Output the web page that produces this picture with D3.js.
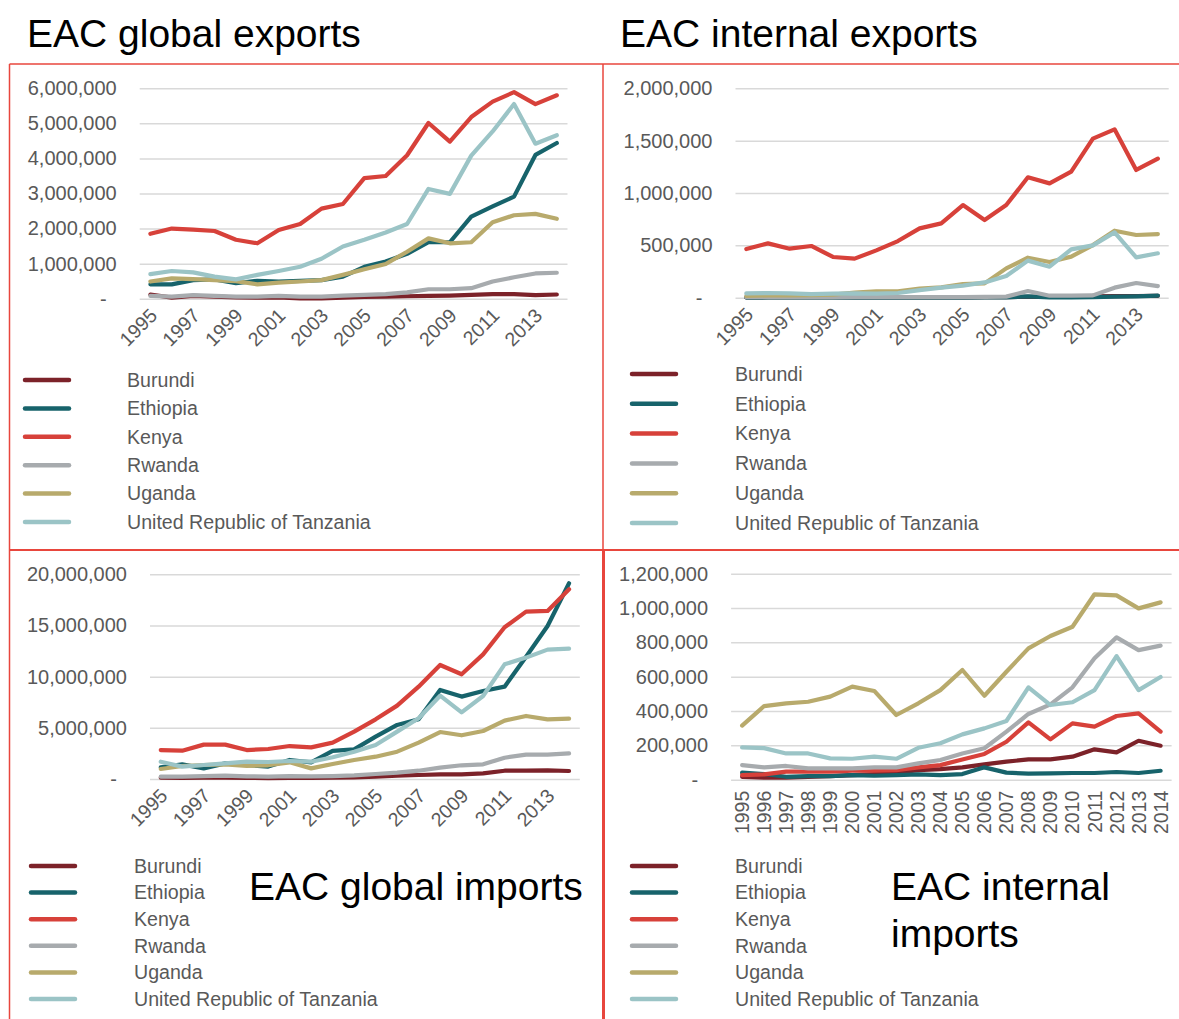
<!DOCTYPE html>
<html>
<head>
<meta charset="utf-8">
<script src="https://cdn.jsdelivr.net/npm/d3@7"></script>
<style>
  html, body { margin: 0; padding: 0; background: #fff; }
  svg { display: block; }
  text { font-family: "Liberation Sans", Arial, sans-serif; }
</style>
</head>
<body>
<svg id="chart" width="1179" height="1019"></svg>
<script>
// ---------------- DATA ----------------
const years = ["1995","1996","1997","1998","1999","2000","2001","2002","2003","2004",
               "2005","2006","2007","2008","2009","2010","2011","2012","2013","2014"];
const countries = ["Burundi","Ethiopia","Kenya","Rwanda","Uganda","United Republic of Tanzania"];
const colors = ["#7c2229","#17636b","#d7413a","#a7abae","#b8aa6c","#9bc4c6"];

// EAC global exports (order: countries)
const globalExportsBurundi  = [120000,30000,80000,60000,40000,30000,40000,10000,10000,30000,50000,60000,70000,80000,90000,110000,130000,130000,100000,120000];
const globalExportsEthiopia = [410000,410000,530000,550000,440000,510000,490000,510000,530000,630000,910000,1060000,1280000,1610000,1610000,2340000,2630000,2910000,4100000,4440000];
const globalExportsKenya    = [1850000,2000000,1970000,1930000,1680000,1580000,1960000,2130000,2570000,2700000,3440000,3500000,4090000,5010000,4480000,5180000,5620000,5890000,5550000,5800000];
const globalExportsRwanda   = [80000,60000,100000,80000,60000,60000,80000,60000,60000,90000,110000,130000,180000,270000,270000,300000,490000,610000,720000,740000];
const globalExportsUganda   = [490000,580000,560000,530000,500000,410000,460000,490000,530000,680000,840000,990000,1340000,1720000,1580000,1610000,2180000,2380000,2420000,2280000];
const globalExportsTanzania = [700000,790000,750000,630000,550000,680000,790000,910000,1140000,1490000,1680000,1890000,2130000,3130000,2990000,4080000,4770000,5550000,4420000,4660000];

// EAC internal exports
const internalExportsBurundi  = [2000,2000,3000,3000,2000,2000,3000,3000,3000,4000,4000,5000,6000,8000,8000,9000,12000,15000,16000,18000];
const internalExportsEthiopia = [1000,1000,1000,1000,1000,1000,1000,1000,1000,1000,1000,2000,3000,12000,3000,4000,5000,10000,13000,20000];
const internalExportsKenya    = [465000,519000,468000,494000,389000,373000,452000,541000,662000,710000,885000,742000,885000,1150000,1092000,1204000,1519000,1608000,1220000,1328000];
const internalExportsRwanda   = [5000,4000,4000,4000,4000,5000,6000,6000,6000,6000,6000,8000,10000,64000,19000,19000,22000,96000,140000,111000];
const internalExportsUganda   = [16000,22000,22000,25000,29000,48000,60000,60000,86000,99000,131000,137000,280000,382000,341000,392000,503000,640000,599000,608000];
const internalExportsTanzania = [41000,45000,41000,35000,38000,41000,38000,45000,73000,96000,115000,146000,207000,354000,296000,462000,500000,624000,385000,424000];

// EAC global imports
const globalImportsBurundi  = [130000,100000,120000,130000,100000,90000,110000,100000,120000,150000,230000,330000,390000,460000,460000,550000,810000,810000,850000,780000];
const globalImportsEthiopia = [1140000,1430000,1040000,1530000,1370000,1210000,1860000,1630000,2740000,2900000,4140000,5280000,5830000,8700000,8050000,8600000,9020000,11950000,14950000,19120000];
const globalImportsKenya    = [2830000,2770000,3360000,3360000,2830000,2930000,3220000,3090000,3550000,4630000,5830000,7170000,9020000,11140000,10230000,12180000,14820000,16350000,16420000,18530000];
const globalImportsRwanda   = [230000,230000,290000,330000,260000,230000,290000,260000,290000,360000,490000,620000,810000,1110000,1340000,1430000,2080000,2380000,2380000,2510000];
const globalImportsUganda   = [980000,1270000,1370000,1430000,1270000,1340000,1630000,1040000,1470000,1860000,2180000,2670000,3550000,4590000,4270000,4690000,5700000,6160000,5830000,5900000];
const globalImportsTanzania = [1690000,1210000,1370000,1530000,1690000,1660000,1760000,1690000,2120000,2670000,3320000,4630000,5930000,8140000,6510000,8110000,11200000,11860000,12640000,12740000];

// EAC internal imports
const internalImportsBurundi  = [17000,12000,12000,17000,21000,27000,33000,41000,56000,62000,72000,89000,105000,118000,118000,134000,177000,159000,227000,198000];
const internalImportsEthiopia = [41000,33000,17000,21000,21000,27000,23000,27000,31000,27000,33000,72000,41000,35000,37000,39000,39000,45000,39000,52000];
const internalImportsKenya    = [27000,31000,47000,47000,47000,52000,52000,56000,72000,85000,118000,150000,221000,334000,235000,328000,309000,371000,386000,280000];
const internalImportsRwanda   = [85000,72000,80000,66000,66000,66000,72000,72000,95000,115000,153000,183000,280000,383000,439000,538000,707000,829000,755000,781000];
const internalImportsUganda   = [315000,429000,445000,454000,484000,542000,517000,377000,445000,522000,639000,489000,629000,765000,837000,891000,1080000,1074000,998000,1033000];
const internalImportsTanzania = [188000,184000,153000,153000,124000,122000,134000,122000,186000,212000,264000,299000,342000,538000,435000,451000,522000,720000,522000,598000];

// tick values
const ticksGlobalExports   = [0,1000000,2000000,3000000,4000000,5000000,6000000];
const ticksInternalExports = [0,500000,1000000,1500000,2000000];
const ticksGlobalImports   = [0,5000000,10000000,15000000,20000000];
const ticksInternalImports = [0,200000,400000,600000,800000,1000000,1200000];
const oddYears = ["1995","1997","1999","2001","2003","2005","2007","2009","2011","2013"];

// ---------------- LAYOUT ----------------
const svg = d3.select("#chart");
const frameColor = "#e8463d";
const textGray = "#595959";
const fmt = d3.format(",");

const panels = [
  { series: [globalExportsBurundi, globalExportsEthiopia, globalExportsKenya, globalExportsRwanda, globalExportsUganda, globalExportsTanzania],
    ticks: ticksGlobalExports, xTicks: oddYears, rot: -45,
    gx0: 139.7, gx1: 567.5, yBottom: 298.7, yTop: 88.3,
    legX: 25, legTextX: 127, legY0: 380, legDy: 28.4 },
  { series: [internalExportsBurundi, internalExportsEthiopia, internalExportsKenya, internalExportsRwanda, internalExportsUganda, internalExportsTanzania],
    ticks: ticksInternalExports, xTicks: oddYears, rot: -45,
    gx0: 735.5, gx1: 1168.7, yBottom: 297.7, yTop: 88.3,
    legX: 632, legTextX: 735, legY0: 374, legDy: 29.8 },
  { series: [globalImportsBurundi, globalImportsEthiopia, globalImportsKenya, globalImportsRwanda, globalImportsUganda, globalImportsTanzania],
    ticks: ticksGlobalImports, xTicks: oddYears, rot: -45,
    gx0: 150, gx1: 579.8, yBottom: 779, yTop: 574.3,
    legX: 31, legTextX: 134, legY0: 866, legDy: 26.6 },
  { series: [internalImportsBurundi, internalImportsEthiopia, internalImportsKenya, internalImportsRwanda, internalImportsUganda, internalImportsTanzania],
    ticks: ticksInternalImports, xTicks: years, rot: -90,
    gx0: 731.1, gx1: 1171.6, yBottom: 779.7, yTop: 573.7,
    legX: 632, legTextX: 735, legY0: 866, legDy: 26.6 }
];

panels.forEach(p => {
  const g = svg.append("g");
  const x = d3.scaleBand().domain(years).range([p.gx0, p.gx1]).padding(0);
  const y = d3.scaleLinear().domain([0, d3.max(p.ticks)]).range([p.yBottom, p.yTop]);
  const cx = d => x(d) + x.bandwidth() / 2;

  // y axis with gridlines
  const yAxis = d3.axisLeft(y).tickValues(p.ticks).tickSize(-(p.gx1 - p.gx0)).tickPadding(23)
    .tickFormat(v => v === 0 ? "-" : fmt(v));
  const ya = g.append("g").attr("transform", `translate(${p.gx0},0)`).call(yAxis);
  ya.select(".domain").remove();
  ya.selectAll(".tick line").attr("stroke", "#d9d9d9").attr("stroke-width", 1.5);
  ya.selectAll(".tick text").attr("fill", textGray).style("font-size", "20px")
    .attr("dx", v => v === 0 ? -10 : 0);

  // x axis
  const xAxis = d3.axisBottom(x).tickValues(p.xTicks).tickSize(0).tickPadding(0);
  const xa = g.append("g").attr("transform", `translate(0,${p.yBottom})`).call(xAxis);
  xa.select(".domain").remove();
  xa.selectAll(".tick line").remove();
  if (p.rot === -45) {
    xa.selectAll(".tick text").attr("fill", textGray).style("font-size", "19.5px")
      .attr("text-anchor", "end").attr("dy", null).attr("y", 0)
      .attr("transform", "translate(8,18) rotate(-45)");
  } else {
    xa.selectAll(".tick text").attr("fill", textGray).style("font-size", "19.5px")
      .attr("text-anchor", "end").attr("dy", null).attr("y", 0)
      .attr("transform", "translate(7,11) rotate(-90)");
  }

  // lines
  const line = d3.line().x((d, i) => cx(years[i])).y(d => y(d));
  p.series.forEach((s, i) => {
    g.append("path").datum(s).attr("d", line).attr("fill", "none")
      .attr("stroke", colors[i]).attr("stroke-width", 4.2)
      .attr("stroke-linejoin", "round").attr("stroke-linecap", "round");
  });

  // legend
  countries.forEach((c, i) => {
    const ly = p.legY0 + i * p.legDy;
    g.append("line").attr("x1", p.legX).attr("x2", p.legX + 44).attr("y1", ly).attr("y2", ly)
      .attr("stroke", colors[i]).attr("stroke-width", 4.5).attr("stroke-linecap", "round");
    g.append("text").attr("x", p.legTextX).attr("y", ly).attr("dy", "0.35em")
      .attr("fill", textGray).style("font-size", "19.6px").text(c);
  });
});

// frames
const frames = [
  [9.5, 64, 1179, 64, 1.5],
  [9.5, 64, 9.5, 1019, 1.5],
  [603, 64, 603, 550, 1.5],
  [9.5, 550, 1179, 550, 2],
  [603.5, 550, 603.5, 1019, 3]
];
frames.forEach(f => {
  svg.append("line").attr("x1", f[0]).attr("y1", f[1]).attr("x2", f[2]).attr("y2", f[3])
    .attr("stroke", frameColor).attr("stroke-width", f[4]);
});

// titles
const titleStyle = sel => sel.attr("fill", "#000").style("font-size", "39px");
svg.append("text").attr("x", 27).attr("y", 47).call(titleStyle).text("EAC global exports");
svg.append("text").attr("x", 620).attr("y", 47).call(titleStyle).text("EAC internal exports");
svg.append("text").attr("x", 249).attr("y", 900).call(titleStyle).text("EAC global imports");
svg.append("text").attr("x", 891).attr("y", 900).call(titleStyle).text("EAC internal");
svg.append("text").attr("x", 891).attr("y", 947).call(titleStyle).text("imports");
</script>
</body>
</html>
